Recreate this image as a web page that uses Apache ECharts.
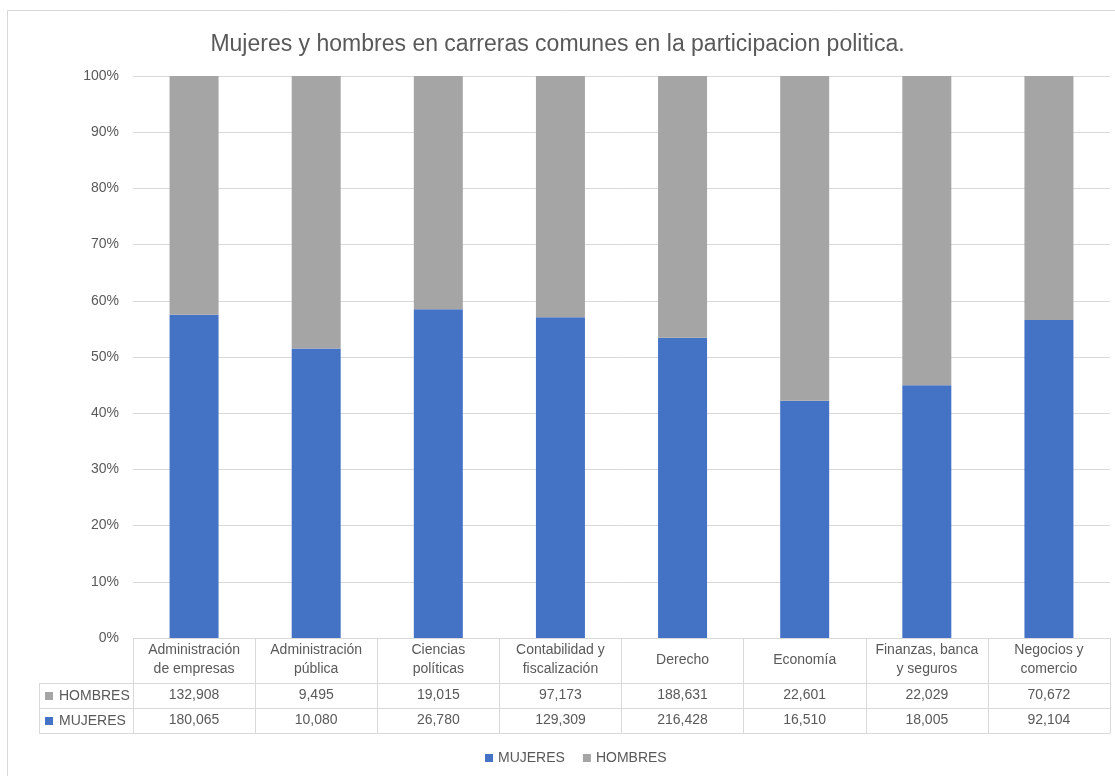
<!DOCTYPE html>
<html>
<head>
<meta charset="utf-8">
<script src="https://cdn.jsdelivr.net/npm/echarts@6/dist/echarts.min.js"></script>
<style>
html,body{margin:0;padding:0;background:#fff;}
#chart{width:1115px;height:776px;}
</style>
</head>
<body>
<div id="chart"></div>
<script>
const categories = [
  "Administración\nde empresas",
  "Administración\npública",
  "Ciencias\npolíticas",
  "Contabilidad y\nfiscalización",
  "Derecho",
  "Economía",
  "Finanzas, banca\ny seguros",
  "Negocios y\ncomercio"
];
const hombres = [132908, 9495, 19015, 97173, 188631, 22601, 22029, 70672];
const mujeres = [180065, 10080, 26780, 129309, 216428, 16510, 18005, 92104];
const yTicks = [0, 10, 20, 30, 40, 50, 60, 70, 80, 90, 100];

const FONT = '"Liberation Sans", Arial, sans-serif';
const TXT = '#595959';
const LINE = '#d9d9d9';
const BLUE = '#4472C4';
const GREY = '#A5A5A5';

const totals = mujeres.map((m, i) => m + hombres[i]);
const mujPct = mujeres.map((m, i) => m / totals[i] * 100);
const homPct = hombres.map((h, i) => h / totals[i] * 100);
const fmt = v => v.toLocaleString('en-US');

const chart = echarts.init(document.getElementById('chart'), null, {renderer: 'canvas'});

const baseX = {
  type: 'category',
  data: categories,
  gridIndex: 0,
  position: 'bottom',
  axisLine: {show: true, lineStyle: {color: LINE, width: 1}},
  axisTick: {show: false},
  splitLine: {show: false}
};

chart.setOption({
  animation: false,
  textStyle: {fontFamily: FONT},
  title: {
    text: 'Mujeres y hombres en carreras comunes en la participacion politica.',
    left: 'center',
    top: 28,
    textStyle: {fontFamily: FONT, fontSize: 23, fontWeight: 'normal', color: TXT}
  },
  legend: {
    data: ['MUJERES', 'HOMBRES'],
    top: 746,
    left: 480,
    icon: 'rect',
    itemWidth: 8,
    itemHeight: 8,
    itemGap: 18,
    textStyle: {fontFamily: FONT, fontSize: 14, color: TXT}
  },
  grid: {left: 133, right: 5, top: 76, bottom: 138, containLabel: false},
  yAxis: {
    type: 'value',
    min: yTicks[0],
    max: yTicks[yTicks.length - 1],
    interval: 10,
    axisLine: {show: false},
    axisTick: {show: false},
    axisLabel: {formatter: '{value}%', fontFamily: FONT, fontSize: 14, color: TXT, margin: 14},
    splitLine: {show: true, lineStyle: {color: LINE, width: 1}}
  },
  xAxis: [
    Object.assign({}, baseX, {
      offset: 0,
      axisTick: {show: true, alignWithLabel: false, interval: 0, length: 95, lineStyle: {color: LINE, width: 1}},
      axisLabel: {interval: 0, margin: 22, verticalAlign: 'middle', fontFamily: FONT, fontSize: 14, lineHeight: 19, color: TXT}
    }),
    Object.assign({}, baseX, {
      offset: 45,
      axisLabel: {interval: 0, margin: 12, verticalAlign: 'middle', fontFamily: FONT, fontSize: 14, color: TXT,
        formatter: (v, i) => fmt(hombres[i])}
    }),
    Object.assign({}, baseX, {
      offset: 70,
      axisLabel: {interval: 0, margin: 12, verticalAlign: 'middle', fontFamily: FONT, fontSize: 14, color: TXT,
        formatter: (v, i) => fmt(mujeres[i])}
    }),
    Object.assign({}, baseX, {
      offset: 95,
      axisLabel: {show: false}
    })
  ],
  series: [
    {
      name: 'MUJERES', type: 'bar', stack: 'total', xAxisIndex: 0,
      barWidth: 49, itemStyle: {color: BLUE}, data: mujPct
    },
    {
      name: 'HOMBRES', type: 'bar', stack: 'total', xAxisIndex: 0,
      barWidth: 49, itemStyle: {color: GREY}, data: homPct
    }
  ],
  graphic: [
    {type: 'rect', shape: {x: 7.5, y: 10.5, width: 1120, height: 800}, style: {fill: 'none', stroke: LINE, lineWidth: 1}, silent: true},
    {type: 'line', shape: {x1: 39, y1: 683.5, x2: 133, y2: 683.5}, style: {stroke: LINE, lineWidth: 1}},
    {type: 'line', shape: {x1: 39, y1: 708.5, x2: 133, y2: 708.5}, style: {stroke: LINE, lineWidth: 1}},
    {type: 'line', shape: {x1: 39, y1: 733.5, x2: 133, y2: 733.5}, style: {stroke: LINE, lineWidth: 1}},
    {type: 'line', shape: {x1: 39.5, y1: 683, x2: 39.5, y2: 734}, style: {stroke: LINE, lineWidth: 1}},
    {type: 'rect', shape: {x: 45, y: 692, width: 8, height: 8}, style: {fill: GREY}},
    {type: 'text', x: 59, y: 696, style: {text: 'HOMBRES', fontFamily: FONT, fontSize: 14, fill: TXT, verticalAlign: 'middle'}},
    {type: 'rect', shape: {x: 45, y: 717, width: 8, height: 8}, style: {fill: BLUE}},
    {type: 'text', x: 59, y: 721, style: {text: 'MUJERES', fontFamily: FONT, fontSize: 14, fill: TXT, verticalAlign: 'middle'}}
  ]
});
</script>
</body>
</html>
